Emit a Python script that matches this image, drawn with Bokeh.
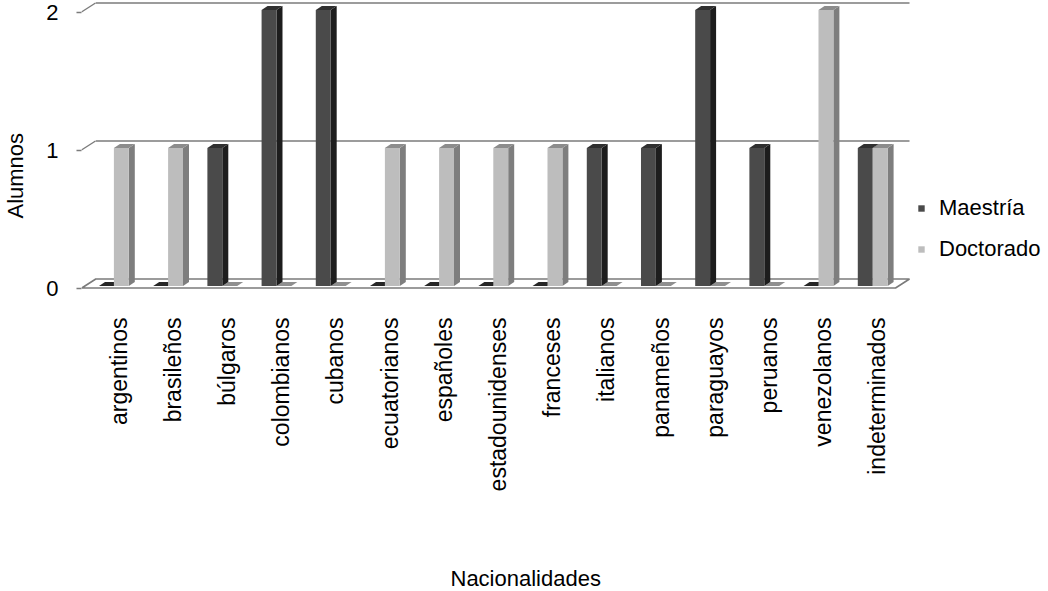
import math
from bokeh.plotting import figure
from bokeh.models import Range1d, FixedTicker, Legend, LegendItem, Title, LinearAxis
from bokeh.embed import file_html
from bokeh.resources import INLINE

# ---------------- data ----------------
categories = ["argentinos", "brasileños", "búlgaros", "colombianos", "cubanos",
              "ecuatorianos", "españoles", "estadounidenses", "franceses",
              "italianos", "panameños", "paraguayos", "peruanos", "venezolanos",
              "indeterminados"]
maestria = [0, 0, 1, 2, 2, 0, 0, 0, 0, 1, 1, 2, 1, 0, 1]
doctorado = [1, 1, 0, 0, 0, 1, 1, 1, 1, 0, 0, 0, 0, 2, 1]
y_ticks = [0, 1, 2]
series_names = ["Maestría", "Doctorado"]
x_title = "Nacionalidades"
y_title = "Alumnos"

# ---------------- layout ----------------
FONT = "Liberation Sans"
W, H = 1048, 591
ML, MB = 81, 299
frame_w = W - ML
frame_h = H - MB
PX_X = 54.2     # pixels per category
PX_Y = 138.0    # pixels per unit
x_start = (ML - 118) / PX_X
x_end = x_start + frame_w / PX_X
y_start = -4.5 / PX_Y
y_end = y_start + frame_h / PX_Y

DX = 14 / PX_X   # depth of the back wall
DY = 9 / PX_Y
BDX = 6 / PX_X   # depth of a bar
BDY = 4 / PX_Y
BASE = 2 / PX_Y
BW = 0.275
OFF = [-0.36, -0.085]

p = figure(width=W, height=H, output_backend="svg", toolbar_location=None,
           x_range=Range1d(x_start, x_end), y_range=Range1d(y_start, y_end),
           min_border_left=ML, min_border_right=0, min_border_top=0,
           min_border_bottom=MB)
p.outline_line_color = None
p.xgrid.visible = False
p.ygrid.visible = False
p.background_fill_color = "white"

n = len(categories)
grey = "#7b7b7b"

# floor
fl = x_start + 0.005
fr = (n - 1) + 0.336
p.patch([fl, fr, fr + DX, fl + DX], [0, 0, DY, DY],
        fill_color="white", line_color=grey, line_width=1.6)

# back grid lines and left connectors
for t in y_ticks[1:]:
    p.line([fl + DX, fr + DX], [t + DY, t + DY], line_color=grey, line_width=1.6)
    p.line([x_start, x_start + DX], [t, t + DY], line_color=grey, line_width=1.4)


def faces(vals, left):
    sx, sy, tx, ty, zx, zy = [], [], [], [], [], []
    for i, v in enumerate(vals):
        xl = i + left
        xr = xl + BW
        b = BASE
        t = BASE + v
        if v > 0:
            sx.append([xr, xr + BDX, xr + BDX, xr])
            sy.append([b, b + BDY, t + BDY, t])
            tx.append([xl, xr, xr + BDX, xl + BDX])
            ty.append([t, t, t + BDY, t + BDY])
        else:
            zx.append([xl, xr, xr + BDX, xl + BDX])
            zy.append([b, b, b + BDY, b + BDY])
    return sx, sy, tx, ty, zx, zy


dsx, dsy, dtx, dty, dzx, dzy = faces(maestria, OFF[0])
lsx, lsy, ltx, lty, lzx, lzy = faces(doctorado, OFF[1])

# flat (zero) bars
p.patches(dzx, dzy, fill_color="#262626", line_color=None)
p.patches(lzx, lzy, fill_color="#8f8f8f", line_color=None)

# Maestría
p.patches(dsx, dsy, fill_color="#1d1d1d", line_color=None)
p.patches(dtx, dty, fill_color="#303030", line_color=None)
r_m = p.vbar(x=[i + OFF[0] + BW / 2 for i in range(n)], width=BW, bottom=BASE,
             top=[v + BASE for v in maestria], fill_color="#4a4a4a", line_color=None)
# Doctorado
p.patches(lsx, lsy, fill_color="#7e7e7e", line_color=None)
p.patches(ltx, lty, fill_color="#8c8c8c", line_color=None)
r_d = p.vbar(x=[i + OFF[1] + BW / 2 for i in range(n)], width=BW, bottom=BASE,
             top=[v + BASE for v in doctorado], fill_color="#bdbdbd", line_color=None)

legend = Legend(items=[LegendItem(label=series_names[0], renderers=[r_m]),
                       LegendItem(label=series_names[1], renderers=[r_d])],
                location=(836, 30), orientation="vertical",
                padding=0, margin=0, spacing=15,
                glyph_width=8, glyph_height=8, label_height=22,
                label_standoff=14, label_text_font=FONT,
                label_text_font_size="22px", label_text_color="#000000",
                border_line_color=None, background_fill_alpha=0)
p.add_layout(legend)

# y axis
ya = p.yaxis[0]
ya.ticker = FixedTicker(ticks=y_ticks)
ya.axis_line_color = None
ya.major_tick_out = 5
ya.major_tick_in = 0
ya.major_tick_line_color = grey
ya.major_tick_line_width = 1.5
ya.minor_tick_line_color = None
ya.major_label_standoff = 18
ya.major_label_text_font = FONT
ya.major_label_text_font_size = "22px"
ya.major_label_text_color = "#000000"

# x axis
xa = p.xaxis[0]
xa.ticker = FixedTicker(ticks=list(range(n)))
xa.major_label_overrides = {i: c for i, c in enumerate(categories)}
xa.major_label_orientation = math.pi / 2
xa.axis_line_color = None
xa.major_tick_out = 0
xa.major_tick_in = 0
xa.minor_tick_line_color = None
xa.major_label_standoff = 25
xa.major_label_text_font = FONT
xa.major_label_text_font_size = "23px"
xa.major_label_text_color = "#000000"


def spacer(size):
    # an empty axis used only to reserve room between the axis and its title
    return LinearAxis(ticker=FixedTicker(ticks=[0]), major_label_overrides={0: ""},
                      axis_line_color=None, major_tick_out=size, major_tick_in=0,
                      major_label_standoff=0, major_label_text_font_size="1px",
                      major_tick_line_color=None, minor_tick_line_color=None)


# axis titles (spacer axes push them outwards)
p.add_layout(spacer(15), "left")
p.add_layout(Title(text=y_title, align="left", offset=frame_h - 218, standoff=0,
                   vertical_align="middle", text_font=FONT, text_font_size="22px",
                   text_font_style="normal", text_color="#000000"), "left")
p.add_layout(spacer(70), "below")
p.add_layout(Title(text=x_title, align="left", offset=450 - ML, standoff=0,
                   vertical_align="middle", text_font=FONT, text_font_size="22px",
                   text_font_style="normal", text_color="#000000"), "below")

open("out.html", "w").write(file_html(p, INLINE))
